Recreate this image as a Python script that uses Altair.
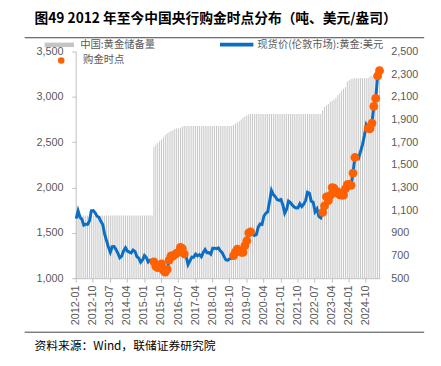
import altair as alt
import pandas as pd

CJK = "Noto Sans CJK SC"
LAT = "Liberation Sans"

# months 2012-01 .. 2025-05
months = [str(p) for p in pd.period_range("2012-01", "2025-05", freq="M")]

# London spot gold, USD/oz (monthly)
gold = (
    [1656, 1742, 1673, 1650, 1585, 1596, 1594, 1630, 1744, 1747, 1722, 1684]
    + [1671, 1627, 1593, 1487, 1414, 1343, 1286, 1347, 1349, 1316, 1275, 1225]
    + [1244, 1300, 1336, 1299, 1288, 1279, 1311, 1296, 1239, 1222, 1176, 1201]
    + [1251, 1227, 1179, 1198, 1199, 1181, 1131, 1117, 1125, 1157, 1087, 1068]
    + [1097, 1200, 1246, 1242, 1260, 1276, 1337, 1341, 1326, 1267, 1238, 1151]
    + [1192, 1234, 1231, 1266, 1246, 1260, 1236, 1283, 1315, 1280, 1282, 1265]
    + [1331, 1331, 1325, 1335, 1303, 1282, 1238, 1202, 1198, 1215, 1221, 1250]
    + [1291, 1320, 1301, 1286, 1284, 1359, 1413, 1500, 1511, 1495, 1471, 1480]
    + [1560, 1597, 1592, 1683, 1716, 1732, 1846, 1968, 1922, 1900, 1866, 1858]
    + [1867, 1808, 1718, 1760, 1850, 1834, 1807, 1785, 1775, 1777, 1821, 1790]
    + [1817, 1856, 1948, 1937, 1849, 1837, 1733, 1765, 1681, 1665, 1726, 1798]
    + [1898, 1855, 1912, 2000, 1992, 1943, 1951, 1918, 1916, 1916, 1985, 2031]
    + [2034, 2023, 2159, 2331, 2352, 2326, 2398, 2471, 2571, 2690, 2651, 2648]
    + [2709, 2895, 2984, 3230, 3288]
)

# China gold reserves, tonnes (monthly)
reserve = (
    [1054.1] * 41
    + [1658.1, 1677.3, 1693.6, 1708.5, 1722.5, 1743.3, 1762.3]
    + [1779.0, 1788.3, 1797.6, 1805.3, 1814.3, 1823.3, 1823.3, 1827.0, 1838.2, 1842.6, 1842.6, 1842.6]
    + [1842.6] * 12
    + [1842.6] * 11 + [1852.5]
    + [1864.3, 1874.3, 1885.5, 1899.2, 1915.3, 1925.6, 1935.3, 1944.0, 1948.3, 1948.3, 1948.3, 1948.3]
    + [1948.3] * 12
    + [1948.3] * 12
    + [1948.3] * 10 + [1980.3, 2010.4]
    + [2025.2, 2037.6, 2055.6, 2063.7, 2076.2, 2092.4, 2113.2, 2130.0, 2156.2, 2172.0, 2184.4, 2235.4]
    + [2245.2, 2257.1, 2262.4, 2264.3, 2264.3, 2264.3, 2264.3, 2264.3, 2264.3, 2264.3, 2269.2, 2279.6]
    + [2285.2, 2290.3, 2292.3, 2294.7, 2296.4]
)

# months when the PBoC added gold
buy_months = (
    ["2015-06", "2015-07", "2015-08", "2015-09", "2015-10", "2015-11", "2015-12",
     "2016-01", "2016-02", "2016-03", "2016-04", "2016-05", "2016-06",
     "2016-08", "2016-09", "2016-10"]
    + ["2018-12", "2019-01", "2019-02", "2019-03", "2019-04", "2019-05",
       "2019-06", "2019-07", "2019-08", "2019-09"]
    + ["2022-11", "2022-12", "2023-01", "2023-02", "2023-03", "2023-04", "2023-05",
       "2023-06", "2023-07", "2023-08", "2023-09", "2023-10", "2023-11", "2023-12",
       "2024-01", "2024-02", "2024-03", "2024-04"]
    + ["2024-11", "2024-12", "2025-01", "2025-02", "2025-03", "2025-04", "2025-05"]
)

tick_months = months[::9]
left_ticks = [1000, 1500, 2000, 2500, 3000, 3500]
right_ticks = [500, 700, 900, 1100, 1300, 1500, 1700, 1900, 2100, 2300, 2500]

S_BAR = "中国:黄金储备量"
S_LINE = "现货价(伦敦市场):黄金:美元"
S_PT = "购金时点"
TITLE = "图49 2012 年至今中国央行购金时点分布（吨、美元/盎司）"
SOURCE = "资料来源：Wind，联储证券研究院"

df = pd.DataFrame({"month": months, "gold": gold, "reserve": reserve})
df["buy"] = df["month"].isin(buy_months)
df["s1"] = S_BAR
df["s2"] = S_LINE
df["s3"] = S_PT

x_enc = alt.X(
    "month:O",
    scale=alt.Scale(domain=months, paddingInner=0.5, paddingOuter=0),
    axis=alt.Axis(
        values=tick_months, labelAngle=-90, title=None, domainColor="#bfbfbf",
        tickColor="#bfbfbf", tickSize=4, labelPadding=3, labelFont=LAT,
        labelFontSize=11, labelColor="#595959",
    ),
)

left_scale = alt.Scale(domain=[1000, 3500], zero=False, nice=False)
left_axis = alt.Axis(
    orient="left", values=left_ticks, format=",.0f", title=None, grid=False,
    domainColor="#bfbfbf", tickColor="#bfbfbf", tickSize=4, labelPadding=9,
    labelFont=LAT, labelFontSize=11, labelColor="#595959",
)

bars = alt.Chart(df).mark_bar(clip=True).encode(
    x=x_enc,
    y=alt.Y(
        "reserve:Q",
        scale=alt.Scale(domain=[500, 2500], zero=False, nice=False),
        axis=alt.Axis(
            orient="right", values=right_ticks, format=",.0f", title=None, grid=False,
            domain=False, ticks=False, labelPadding=11, labelFont=LAT,
            labelFontSize=11, labelColor="#595959",
        ),
    ),
    y2=alt.datum(500),
    color=alt.Color(
        "s1:N",
        scale=alt.Scale(domain=[S_BAR], range=["#c4c4c4"]),
        legend=alt.Legend(
            title=None, orient="none", legendX=-22, legendY=-12, padding=0,
            symbolType="M-3,-0.45H3V0.45H-3Z", symbolSize=100, symbolStrokeWidth=0,
            labelOffset=16, labelFont=CJK, labelFontSize=10.5, labelColor="#595959",
        ),
    ),
)

line = alt.Chart(df).mark_line(strokeWidth=3).encode(
    x=x_enc,
    y=alt.Y("gold:Q", scale=left_scale, axis=left_axis),
    color=alt.Color(
        "s2:N",
        scale=alt.Scale(domain=[S_LINE], range=["#0a6fc4"]),
        legend=alt.Legend(
            title=None, orient="none", legendX=157, legendY=-14, padding=0,
            symbolType="M-3.4,0H3.4", symbolSize=100, symbolStrokeWidth=4,
            labelOffset=14, labelFont=CJK, labelFontSize=10.5, labelColor="#595959",
        ),
    ),
)

points = alt.Chart(df).transform_filter("datum.buy").mark_circle(size=80, opacity=1).encode(
    x=x_enc,
    y=alt.Y("gold:Q", scale=left_scale, axis=left_axis),
    fill=alt.Fill(
        "s3:N",
        scale=alt.Scale(domain=[S_PT], range=["#ff6000"]),
        legend=alt.Legend(
            title=None, orient="none", legendX=-20, legendY=4, padding=0,
            symbolType="circle", symbolSize=45, labelOffset=17,
            labelFont=CJK, labelFontSize=10.5, labelColor="#595959",
        ),
    ),
)

inner = alt.layer(line, points)

one = pd.DataFrame({"k": [0]})
title_txt = alt.Chart(one).mark_text(
    text=TITLE, align="left", baseline="middle", font=CJK, fontSize=14,
    fontWeight="bold", color="#000000",
).encode(x=alt.value(-42), y=alt.value(-33))
rule_top = alt.Chart(one).mark_rule(color="#404040", strokeWidth=1).encode(
    x=alt.value(-52), x2=alt.value(355), y=alt.value(-14)
)
rule_bot = alt.Chart(one).mark_rule(color="#404040", strokeWidth=1).encode(
    x=alt.value(-52), x2=alt.value(355), y=alt.value(286)
)
source_txt = alt.Chart(one).mark_text(
    text=SOURCE, align="left", baseline="middle", font=CJK, fontSize=12,
    color="#000000",
).encode(x=alt.value(-42), y=alt.value(300))

chart = (
    alt.layer(bars, inner, title_txt, rule_top, rule_bot, source_txt)
    .resolve_scale(y="independent", color="independent")
    .properties(
        width=310, height=231,
        autosize=alt.AutoSizeParams(type="none"),
        padding={"left": 69, "top": 41, "right": 54, "bottom": 78},
    )
    .configure_view(stroke=None)
)

chart.save("out.html", embed_options={"renderer": "svg", "actions": False})
